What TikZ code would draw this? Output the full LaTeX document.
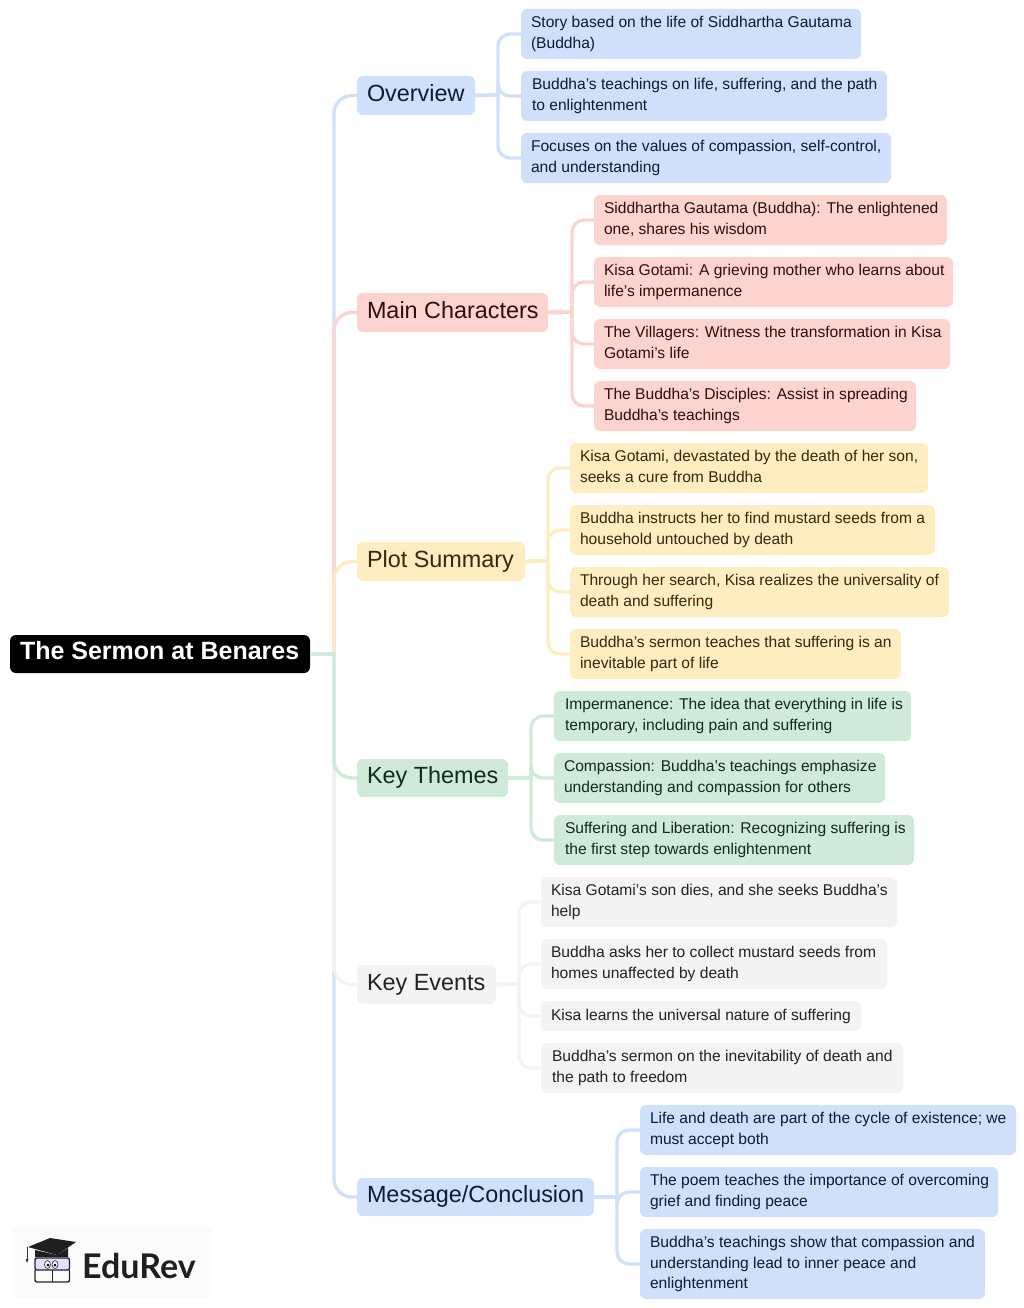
\documentclass[tikz,border=0pt]{standalone}
\usepackage{fontspec}
\setmainfont{Liberation Sans}
\newfontfamily\logofont{Lato}
\definecolor{bluefill}{HTML}{D0E0FB}
\definecolor{redfill}{HTML}{FDD3CF}
\definecolor{yellowfill}{HTML}{FEEDC0}
\definecolor{greenfill}{HTML}{CFEAD9}
\definecolor{greyfill}{HTML}{F2F3F2}
\definecolor{bluetext}{HTML}{0F1A33}
\definecolor{redtext}{HTML}{2E0E0C}
\definecolor{yellowtext}{HTML}{33290F}
\definecolor{greentext}{HTML}{14281C}
\definecolor{greytext}{HTML}{222222}
\tikzset{
  box/.style={rectangle,rounded corners=6pt,inner sep=0pt,anchor=center},
  leaf/.style={box,font=\fontsize{15.6}{20.4}\selectfont},
  branch/.style={box,font=\fontsize{23.4}{28}\selectfont},
  rootbox/.style={box,font=\fontsize{25}{28}\selectfont\bfseries,fill=black,text=white},
  bluebox/.style={fill=bluefill,text=bluetext},
  redbox/.style={fill=redfill,text=redtext},
  yellowbox/.style={fill=yellowfill,text=yellowtext},
  greenbox/.style={fill=greenfill,text=greentext},
  greybox/.style={fill=greyfill,text=greytext},
  link/.style={line width=3.4pt},
  bluelink/.style={link,draw=bluefill},
  redlink/.style={link,draw=redfill},
  yellowlink/.style={link,draw=yellowfill},
  greenlink/.style={link,draw=greenfill},
  greylink/.style={link,draw=greyfill}
}
% name, x0, y0, x1, y1, style, text
\newcommand{\bx}[7]{%
  \pgfmathsetmacro{\bxw}{#4-#2}\pgfmathsetmacro{\bxh}{#5-#3}\pgfmathsetmacro{\bxt}{#4-#2-20}%
  \node[#6,minimum width=\bxw pt,minimum height=\bxh pt] (#1) at ({(#2+#4)/2},{(#3+#5)/2})
    {\makebox[\bxt pt][l]{\begin{tabular}{@{}l@{}}#7\end{tabular}}};}
\begin{document}
\begin{tikzpicture}[x=1pt,y=-1pt]
\useasboundingbox (0,0) rectangle (1024,1308);
\bx{root}{10}{635}{310}{673}{rootbox}{The Sermon at Benares}
\bx{ov}{357}{76}{475}{115}{branch,bluebox}{Overview}
\bx{mc}{357}{293}{548}{332}{branch,redbox}{Main Characters}
\bx{ps}{357}{542}{525}{581}{branch,yellowbox}{Plot Summary}
\bx{kt}{357}{759}{508}{797}{branch,greenbox}{Key Themes}
\bx{ke}{357}{965}{496}{1004}{branch,greybox}{Key Events}
\bx{mg}{357}{1178}{594}{1216}{branch,bluebox}{Message/Conclusion}
\bx{a1}{521}{9}{861}{59}{leaf,bluebox}{Story based on the life of Siddhartha Gautama\\(Buddha)}
\bx{a2}{521}{71}{887}{121}{leaf,bluebox}{\hspace{1pt}Buddha’s teachings on life, suffering, and the path\\\hspace{1pt}to enlightenment}
\bx{a3}{521}{133}{891}{183}{leaf,bluebox}{Focuses on the values of compassion, self-control,\\and understanding}
\bx{b1}{594}{195}{947}{245}{leaf,redbox}{Siddhartha Gautama (Buddha): The enlightened\\one, shares his wisdom}
\bx{b2}{594}{257}{953}{307}{leaf,redbox}{Kisa Gotami: A grieving mother who learns about\\life’s impermanence}
\bx{b3}{594}{319}{950}{369}{leaf,redbox}{The Villagers: Witness the transformation in Kisa\\Gotami’s life}
\bx{b4}{594}{381}{916}{431}{leaf,redbox}{The Buddha’s Disciples: Assist in spreading\\Buddha’s teachings}
\bx{c1}{570}{443}{928}{493}{leaf,yellowbox}{Kisa Gotami, devastated by the death of her son,\\seeks a cure from Buddha}
\bx{c2}{570}{505}{935}{555}{leaf,yellowbox}{Buddha instructs her to find mustard seeds from a\\household untouched by death}
\bx{c3}{570}{567}{949}{617}{leaf,yellowbox}{Through her search, Kisa realizes the universality of\\death and suffering}
\bx{c4}{570}{629}{901}{679}{leaf,yellowbox}{Buddha’s sermon teaches that suffering is an\\inevitable part of life}
\bx{d1}{554}{691}{911}{741}{leaf,greenbox}{\hspace{1pt}Impermanence: The idea that everything in life is\\\hspace{1pt}temporary, including pain and suffering}
\bx{d2}{554}{753}{885}{803}{leaf,greenbox}{Compassion: Buddha’s teachings emphasize\\understanding and compassion for others}
\bx{d3}{554}{815}{914}{865}{leaf,greenbox}{\hspace{1pt}Suffering and Liberation: Recognizing suffering is\\\hspace{1pt}the first step towards enlightenment}
\bx{e1}{541}{877}{897}{927}{leaf,greybox}{Kisa Gotami’s son dies, and she seeks Buddha’s\\help}
\bx{e2}{541}{939}{887}{989}{leaf,greybox}{Buddha asks her to collect mustard seeds from\\homes unaffected by death}
\bx{e3}{541}{1001}{861}{1031}{leaf,greybox}{Kisa learns the universal nature of suffering}
\bx{e4}{541}{1043}{903}{1093}{leaf,greybox}{\hspace{1pt}Buddha’s sermon on the inevitability of death and\\\hspace{1pt}the path to freedom}
\bx{f1}{640}{1105}{1016}{1155}{leaf,bluebox}{Life and death are part of the cycle of existence; we\\must accept both}
\bx{f2}{640}{1167}{998}{1217}{leaf,bluebox}{The poem teaches the importance of overcoming\\grief and finding peace}
\bx{f3}{640}{1229}{985}{1299}{leaf,bluebox}{Buddha’s teachings show that compassion and\\understanding lead to inner peace and\\enlightenment}
% trunk and buses
\coordinate (trunk) at (334,654);
\coordinate (busa) at (498,95);
\coordinate (busb) at (572,312);
\coordinate (busc) at (548,561);
\coordinate (busd) at (531,778);
\coordinate (buse) at (519,984);
\coordinate (busf) at (617,1197);
% main branches
\draw[bluelink] (root.east) -- (trunk) [rounded corners=18pt] |- (ov.west);
\draw[redlink] (root.east) -- (trunk) [rounded corners=18pt] |- (mc.west);
\draw[yellowlink] (root.east) -- (trunk) [rounded corners=18pt] |- (ps.west);
\draw[bluelink] (root.east) -- (trunk) [rounded corners=18pt] |- (mg.west);
\draw[greylink] (root.east) -- (trunk) [rounded corners=18pt] |- (ke.west);
\draw[greenlink] (root.east) -- (trunk) [rounded corners=18pt] |- (kt.west);
% sub-branches
\foreach \c in {a1,a2,a3}{\draw[bluelink] (ov.east) -- (busa) [rounded corners=12pt] |- (\c.west);}
\foreach \c in {b1,b2,b3,b4}{\draw[redlink] (mc.east) -- (busb) [rounded corners=12pt] |- (\c.west);}
\foreach \c in {c1,c2,c3,c4}{\draw[yellowlink] (ps.east) -- (busc) [rounded corners=12pt] |- (\c.west);}
\foreach \c in {d1,d2,d3}{\draw[greenlink] (kt.east) -- (busd) [rounded corners=12pt] |- (\c.west);}
\foreach \c in {e1,e2,e3,e4}{\draw[greylink] (ke.east) -- (buse) [rounded corners=12pt] |- (\c.west);}
\foreach \c in {f1,f2,f3}{\draw[bluelink] (mg.east) -- (busf) [rounded corners=12pt] |- (\c.west);}
% logo
\fill[black!1.5] (12,1227) rectangle (212,1298);
\fill[black!88] (28,1247) -- (50,1238) -- (76,1242) -- (57,1255) -- cycle;
\fill[black!88] (35,1250) -- (35,1257) -- (68,1257) -- (68,1248) -- (57,1255) -- cycle;
\draw[black!80,line width=1pt] (27,1247) -- (27,1260);
\fill[black!80] (25.5,1259) -- (28.5,1259) -- (27,1263) -- cycle;
\draw[black!85,line width=1.4pt,fill=blue!12,rounded corners=2pt] (35,1258) rectangle (69.5,1270);
\draw[black!85,line width=1.4pt,rounded corners=2pt] (35,1270) -- (35,1282) -- (69.5,1282) -- (69.5,1270);
\fill[white,draw=black!85,line width=.6pt] (47.5,1264.5) ellipse (3pt and 4pt);
\fill[white,draw=black!85,line width=.6pt] (55,1264.5) ellipse (3pt and 4pt);
\fill[black] (48,1265) circle (1.5pt) (55,1265) circle (1.5pt);
\draw[black!85,line width=1pt] (52,1270) -- (52,1282);
\node[anchor=west,inner sep=0pt,font=\logofont\fontsize{34}{36}\selectfont\bfseries,text=black!88] (logo) at (82,1266) {EduRev};
\end{tikzpicture}
\end{document}
